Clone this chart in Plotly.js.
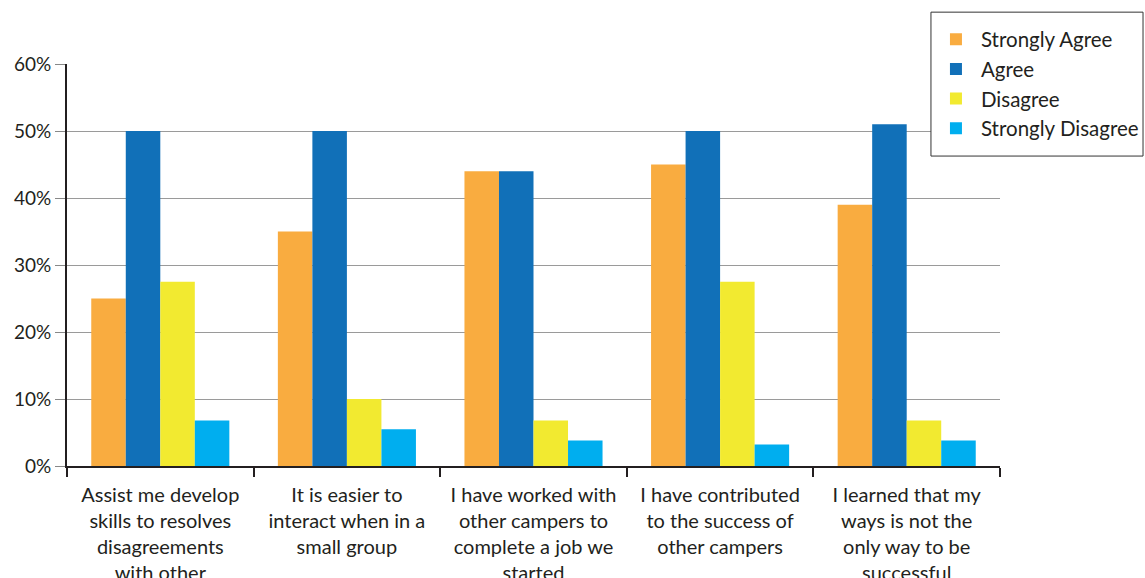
<!DOCTYPE html>
<html>
<head>
<meta charset="utf-8">
<script src="https://cdn.plot.ly/plotly-3.0.1.min.js"></script>
<style>html,body{margin:0;padding:0;background:#fff;}#chart{width:1145px;height:578px;}</style>
</head>
<body>
<div id="chart"></div>
<script>
var categories = [
  "Assist me develop<br>skills to resolves<br>disagreements<br>with other",
  "It is easier to<br>interact when in a<br>small group",
  "I have worked with<br>other campers to<br>complete a job we<br>started",
  "I have contributed<br>to the success of<br>other campers",
  "I learned that my<br>ways is not the<br>only way to be<br>successful"
];
var seriesNames = ["Strongly Agree", "Agree", "Disagree", "Strongly Disagree"];
var stronglyAgree    = [25, 35, 44, 45, 39];
var agree            = [50, 50, 44, 50, 51];
var disagree         = [27.5, 10, 6.8, 27.5, 6.8];
var stronglyDisagree = [6.8, 5.5, 3.8, 3.2, 3.8];
var colors = ["#F9AC40", "#1170B8", "#F2EA30", "#00AEEF"];
var seriesValues = [stronglyAgree, agree, disagree, stronglyDisagree];

var data = seriesValues.map(function (vals, i) {
  return {
    type: "bar",
    name: seriesNames[i],
    x: categories,
    y: vals,
    marker: { color: colors[i], line: { width: 0 } },
    hoverinfo: "y+name"
  };
});

var font = "Lato, 'Open Sans', sans-serif";
var layout = {
  width: 1145,
  height: 578,
  paper_bgcolor: "#ffffff",
  plot_bgcolor: "#ffffff",
  margin: { l: 67, r: 145, t: 64, b: 112, pad: 0, autoexpand: false },
  barmode: "group",
  bargap: 0.26,
  bargroupgap: 0,
  font: { family: font, size: 18, color: "#231f20" },
  showlegend: true,
  legend: {
    x: 0.926, xanchor: "left",
    y: 1.1107, yanchor: "top",
    borderwidth: 0,
    bgcolor: "rgba(0,0,0,0)",
    font: { family: font, size: 20.5, color: "#231f20" },
    tracegroupgap: 0,
    itemwidth: 40
  },
  shapes: [{
    type: "rect", xref: "paper", yref: "paper",
    x0: 0.926, x1: 1.1533, y0: 0.771, y1: 1.129,
    line: { color: "#333333", width: 1 },
    fillcolor: "#ffffff",
    layer: "above"
  }],
  xaxis: {
    type: "category",
    automargin: false,
    tickson: "boundaries",
    ticks: "outside",
    ticklen: 9,
    tickwidth: 2,
    tickcolor: "#231f20",
    ticklabelstandoff: 10,
    showline: true,
    linecolor: "#231f20",
    linewidth: 2,
    showgrid: false,
    tickfont: { family: font, size: 20, color: "#231f20" },
    fixedrange: true
  },
  yaxis: {
    range: [0, 60],
    dtick: 10,
    ticksuffix: "%",
    automargin: false,
    ticks: "outside",
    ticklen: 10,
    tickwidth: 1,
    tickcolor: "#888888",
    showline: true,
    linecolor: "#231f20",
    linewidth: 2,
    showgrid: true,
    gridcolor: "#9a9a9a",
    gridwidth: 1,
    zeroline: false,
    tickfont: { family: font, size: 19, color: "#231f20" },
    fixedrange: true
  }
};

Plotly.newPlot("chart", data, layout, { displayModeBar: false, staticPlot: false });
</script>
</body>
</html>
